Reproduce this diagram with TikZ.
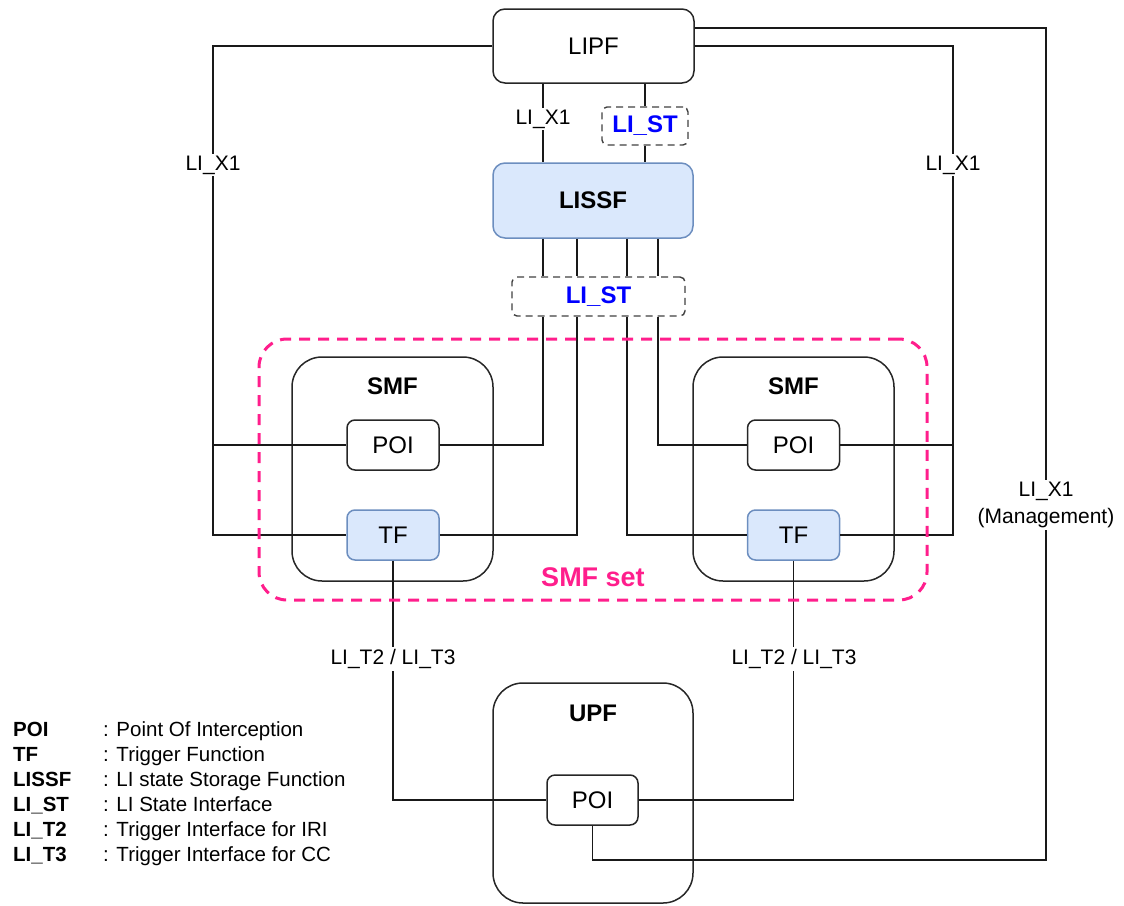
\documentclass[tikz,border=0pt]{standalone}
\usepackage{fontspec}
\setmainfont{Liberation Sans}
\definecolor{bluefill}{HTML}{DAE8FC}
\definecolor{blueline}{HTML}{6C8EBF}
\definecolor{smfpink}{RGB}{255,30,140}
\definecolor{stblue}{HTML}{0000FF}
\begin{document}
\begin{tikzpicture}[x=1pt,y=-1pt,
  box/.style={draw=black!85, line width=1.5pt, rounded corners=10pt, inner sep=0pt, font=\fontsize{24}{28}\selectfont},
  bigbox/.style={draw=black!85, line width=1.5pt, rounded corners=30pt, inner sep=0pt},
  bluebox/.style={box, fill=bluefill, draw=blueline},
  dbox/.style={draw=black!75, dash pattern=on 7pt off 5pt, line width=1.4pt, rounded corners=5pt, inner sep=0pt, font=\bfseries\fontsize{24}{28}\selectfont, text=stblue},
  conn/.style={line width=1.4pt, black!90},
  lbl/.style={fill=white, inner sep=2pt, font=\fontsize{21}{27}\selectfont, align=center},
  title/.style={font=\bfseries\fontsize{24}{28}\selectfont, inner sep=0pt},
  legterm/.style={anchor=base west, inner sep=0pt, font=\bfseries\fontsize{20.5}{24}\selectfont},
  legdesc/.style={anchor=base west, inner sep=0pt, font=\fontsize{20.5}{24}\selectfont}
]
\useasboundingbox (0,0) rectangle (1124,905);

% coordinates for vertical line positions
\coordinate (c1) at (543,0);
\coordinate (c2) at (577,0);
\coordinate (c3) at (627,0);
\coordinate (c4) at (658,0);
\coordinate (xl) at (213,0);
\coordinate (xr) at (953,0);
\coordinate (mb) at (1046,860);

% nodes
\node[box, rounded corners=12pt, minimum width=201pt, minimum height=74pt] (lipf) at (593.5,46) {LIPF};
\node[dbox, minimum width=86pt, minimum height=38pt] (st1) at (645,126) {LI\_ST};
\node[bluebox, rounded corners=12pt, font=\bfseries\fontsize{24}{28}\selectfont, minimum width=200pt, minimum height=75pt] (lissf) at (593,200.5) {LISSF};
\node[dbox, minimum width=173pt, minimum height=39pt] (stw) at (598.5,296.5) {LI\_ST};

\node[bigbox, minimum width=201pt, minimum height=224pt] (smfL) at (392.5,469) {};
\node[bigbox, minimum width=201pt, minimum height=224pt] (smfR) at (793.5,469) {};
\node[title] (smfLt) at (392.5,386) {SMF};
\node[title] (smfRt) at (793.5,386) {SMF};
\node[box, rounded corners=8pt, minimum width=92pt, minimum height=50pt] (poiL) at (393,445) {POI};
\node[bluebox, rounded corners=8pt, minimum width=92pt, minimum height=50pt] (tfL) at (393,535) {TF};
\node[box, rounded corners=8pt, minimum width=92pt, minimum height=50pt] (poiR) at (793.5,445) {POI};
\node[bluebox, rounded corners=8pt, minimum width=92pt, minimum height=50pt] (tfR) at (793.5,535) {TF};

\node[bigbox, minimum width=200pt, minimum height=220pt] (upf) at (593,793) {};
\node[title] (upft) at (593,713) {UPF};
\node[box, rounded corners=8pt, minimum width=91pt, minimum height=50pt] (upoi) at (592.5,800) {POI};

% connectors
\draw[conn] (lipf.south -| c1) -- (lissf.north -| c1);
\draw[conn] (lipf.south -| st1) -- (st1.north);
\draw[conn] (st1.south) -- (lissf.north -| st1);
\foreach \c in {c1,c2,c3,c4} \draw[conn] (lissf.south -| \c) -- (stw.north -| \c);

\draw[conn] (poiL.east) -| (stw.south -| c1);
\draw[conn] (tfL.east) -| (stw.south -| c2);
\draw[conn] (tfR.west) -| (stw.south -| c3);
\draw[conn] (poiR.west) -| (stw.south -| c4);

\draw[conn] (lipf.west) -| (xl |- tfL) -- (tfL.west);
\draw[conn] (xl |- poiL) -- (poiL.west);
\draw[conn] (lipf.east) -| (xr |- tfR) -- (tfR.east);
\draw[conn] (xr |- poiR) -- (poiR.east);

\draw[conn] ([yshift=18pt]lipf.east) -| (mb) -| (upoi.south);

\draw[conn] (tfL.south) |- (upoi.west);
\draw[conn] (tfR.south) |- (upoi.east);

% SMF set
\node[draw=smfpink, dash pattern=on 11pt off 8pt, line width=3pt, rounded corners=28pt, minimum width=668pt, minimum height=261pt, inner sep=0pt] (smfset) at (593,469.5) {};
\node[text=smfpink, font=\bfseries\fontsize{27}{30}\selectfont, inner sep=0pt] (smfsetl) at (593,577) {SMF set};

% connector labels
\node[lbl] (lx1a) at (543,119) {LI\_X1};
\node[lbl] (lx1l) at (213,165) {LI\_X1};
\node[lbl] (lx1r) at (953,165) {LI\_X1};
\node[lbl] (lx1m) at (1046,505) {LI\_X1\\(Management)};
\node[lbl] (ltl) at (393,659) {LI\_T2 / LI\_T3};
\node[lbl] (ltr) at (794,659) {LI\_T2 / LI\_T3};

% legend
\node[legterm] (t1) at (13,736) {POI};
\node[legterm] (t2) at (13,761) {TF};
\node[legterm] (t3) at (13,786) {LISSF};
\node[legterm] (t4) at (13,811) {LI\_ST};
\node[legterm] (t5) at (13,836) {LI\_T2};
\node[legterm] (t6) at (13,861) {LI\_T3};
\node[legdesc] (d1) at (103,736) {: Point Of Interception};
\node[legdesc] (d2) at (103,761) {: Trigger Function};
\node[legdesc] (d3) at (103,786) {: LI state Storage Function};
\node[legdesc] (d4) at (103,811) {: LI State Interface};
\node[legdesc] (d5) at (103,836) {: Trigger Interface for IRI};
\node[legdesc] (d6) at (103,861) {: Trigger Interface for CC};
\end{tikzpicture}
\end{document}
